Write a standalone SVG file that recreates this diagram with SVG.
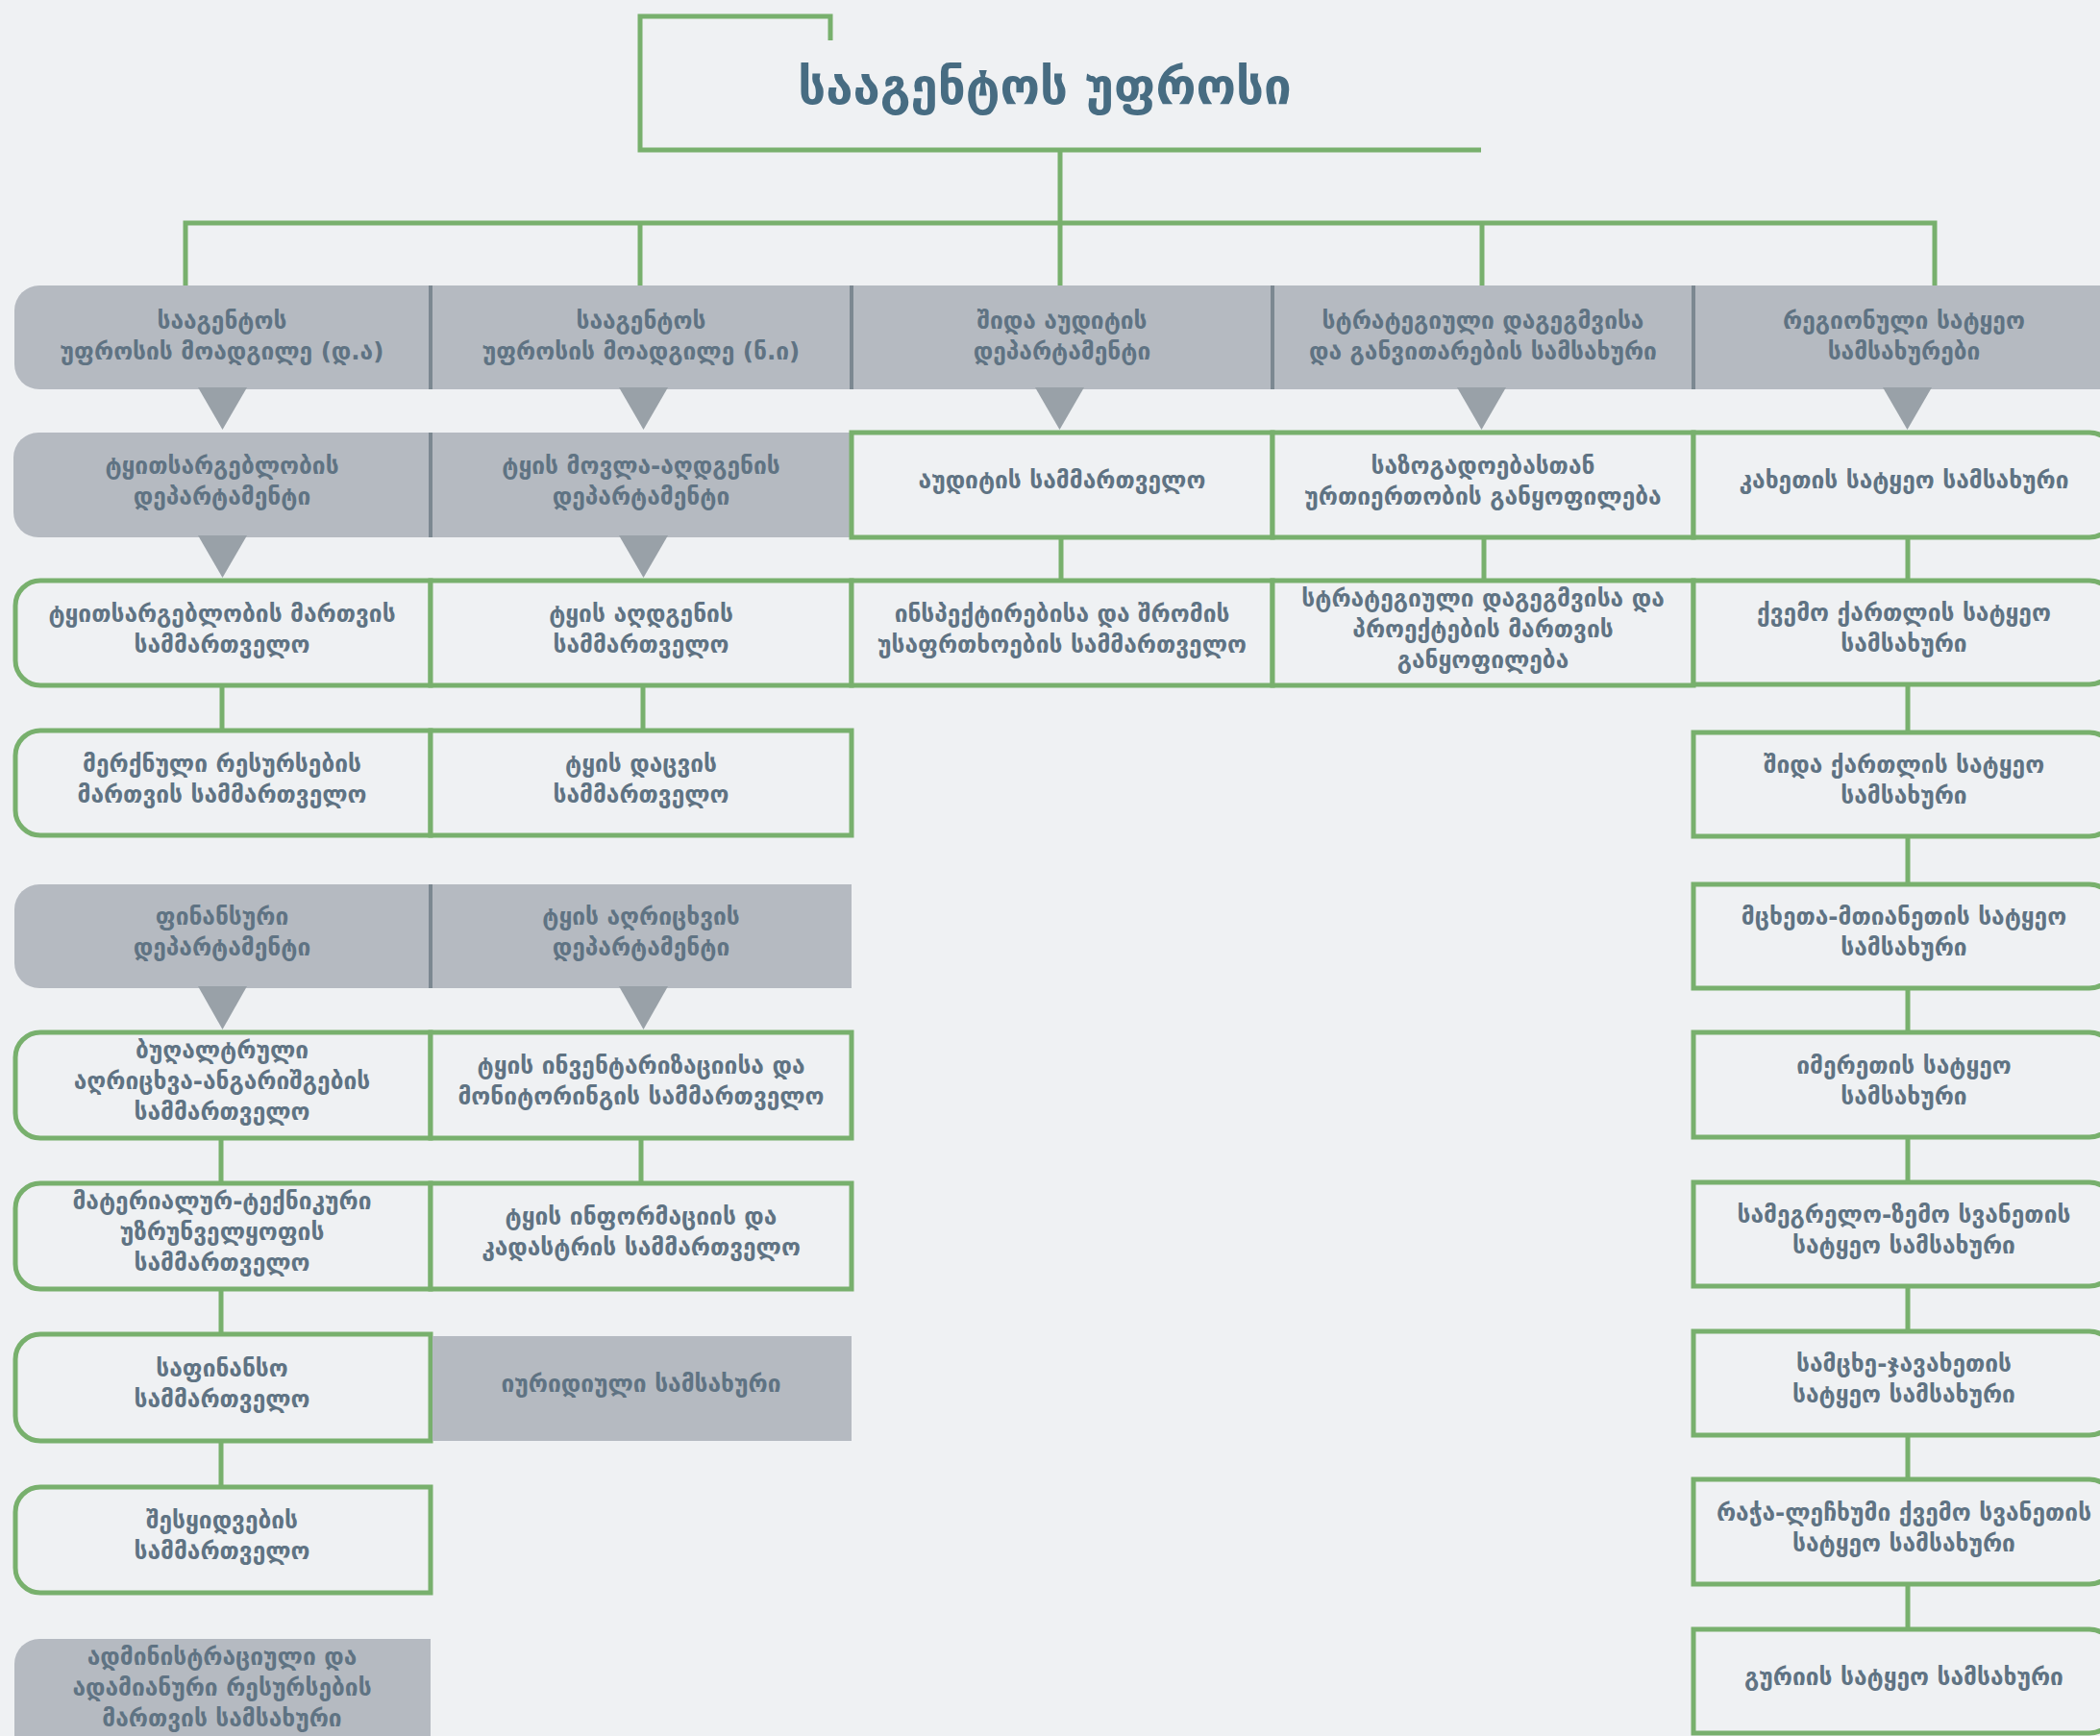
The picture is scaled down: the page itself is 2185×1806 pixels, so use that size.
<svg xmlns="http://www.w3.org/2000/svg" width="2185" height="1806" viewBox="0 0 2185 1806">
<style>
.bg{fill:#eff1f3}
.g{fill:#b5bac1}
.dv{fill:#7c8891}
.w{fill:#eff1f3;stroke:#78b06d;stroke-width:5}
.c{stroke:#78b06d;stroke-width:5;fill:none}
.a{fill:#99a1a8}
.t{font-family:"DejaVu Sans",sans-serif;font-size:24.5px;font-weight:bold;fill:#5f7383;text-anchor:middle}
.title{font-family:"DejaVu Sans",sans-serif;font-size:51px;font-weight:bold;fill:#476c82;text-anchor:middle}
</style>
<rect class="bg" x="0" y="0" width="2185" height="1806"/>

<g id="n-title">
<path class="c" d="M864,42 V17 H666 V156 H1541"/>
<text class="title" x="1087" y="108">სააგენტოს უფროსი</text>
</g>

<!-- Row 1 -->
<g id="n1-1"><path class="g" d="M41,297 H448 V405 H41 A26,26 0 0 1 15,379 V323 A26,26 0 0 1 41,297 Z"/>
<text class="t" x="231" y="342">სააგენტოს</text><text class="t" x="231" y="374">უფროსის მოადგილე (დ.ა)</text></g>
<g id="n1-2"><rect class="g" x="448" y="297" width="438" height="108"/><rect class="dv" x="446" y="297" width="4" height="108"/>
<text class="t" x="667" y="342">სააგენტოს</text><text class="t" x="667" y="374">უფროსის მოადგილე (ნ.ი)</text></g>
<g id="n1-3"><rect class="g" x="886" y="297" width="438" height="108"/><rect class="dv" x="884" y="297" width="4" height="108"/>
<text class="t" x="1105" y="342">შიდა აუდიტის</text><text class="t" x="1105" y="374">დეპარტამენტი</text></g>
<g id="n1-4"><rect class="g" x="1324" y="297" width="438" height="108"/><rect class="dv" x="1322" y="297" width="4" height="108"/>
<text class="t" x="1543" y="342">სტრატეგიული დაგეგმვისა</text><text class="t" x="1543" y="374">და განვითარების სამსახური</text></g>
<g id="n1-5"><rect class="g" x="1762" y="297" width="440" height="108"/><rect class="dv" x="1760" y="297" width="4" height="108"/>
<text class="t" x="1981" y="342">რეგიონული სატყეო</text><text class="t" x="1981" y="374">სამსახურები</text></g>

<!-- Row 2 -->
<g id="n2-1"><path class="g" d="M40,450 H448 V559 H40 A26,26 0 0 1 14,533 V476 A26,26 0 0 1 40,450 Z"/>
<text class="t" x="231" y="492.5">ტყითსარგებლობის</text><text class="t" x="231" y="524.5">დეპარტამენტი</text></g>
<g id="n2-2"><rect class="g" x="448" y="450" width="438" height="109"/><rect class="dv" x="446" y="450" width="4" height="109"/>
<text class="t" x="667" y="492.5">ტყის მოვლა-აღდგენის</text><text class="t" x="667" y="524.5">დეპარტამენტი</text></g>
<g id="n2-3"><rect class="w" x="886" y="450" width="438" height="109"/>
<text class="t" x="1105" y="507.5">აუდიტის სამმართველო</text></g>
<g id="n2-4"><rect class="w" x="1324" y="450" width="438" height="109"/>
<text class="t" x="1543" y="492.5">საზოგადოებასთან</text><text class="t" x="1543" y="524.5">ურთიერთობის განყოფილება</text></g>
<g id="n2-5"><path class="w" d="M1762,450 H2174 A26,26 0 0 1 2200,476 V533 A26,26 0 0 1 2174,559 H1762 Z"/>
<text class="t" x="1981" y="507.5">კახეთის სატყეო სამსახური</text></g>

<!-- Row 3 -->
<g id="n3-1"><path class="w" d="M42,604 H448 V713 H42 A26,26 0 0 1 16,687 V630 A26,26 0 0 1 42,604 Z"/>
<text class="t" x="231" y="646.5">ტყითსარგებლობის მართვის</text><text class="t" x="231" y="678.5">სამმართველო</text></g>
<g id="n3-2"><rect class="w" x="448" y="604" width="438" height="109"/>
<text class="t" x="667" y="646.5">ტყის აღდგენის</text><text class="t" x="667" y="678.5">სამმართველო</text></g>
<g id="n3-3"><rect class="w" x="886" y="604" width="438" height="109"/>
<text class="t" x="1105" y="646.5">ინსპექტირებისა და შრომის</text><text class="t" x="1105" y="678.5">უსაფრთხოების სამმართველო</text></g>
<g id="n3-4"><rect class="w" x="1324" y="604" width="438" height="109"/>
<text class="t" x="1543" y="630.5">სტრატეგიული დაგეგმვისა და</text><text class="t" x="1543" y="662.5">პროექტების მართვის</text><text class="t" x="1543" y="694.5">განყოფილება</text></g>
<g id="n3-5"><path class="w" d="M1762,604 H2174 A26,26 0 0 1 2200,630 V686 A26,26 0 0 1 2174,712 H1762 Z"/>
<text class="t" x="1981" y="646">ქვემო ქართლის სატყეო</text><text class="t" x="1981" y="678">სამსახური</text></g>

<!-- Row 4 -->
<g id="n4-1"><path class="w" d="M42,760 H448 V869 H42 A26,26 0 0 1 16,843 V786 A26,26 0 0 1 42,760 Z"/>
<text class="t" x="231" y="802.5">მერქნული რესურსების</text><text class="t" x="231" y="834.5">მართვის სამმართველო</text></g>
<g id="n4-2"><rect class="w" x="448" y="760" width="438" height="109"/>
<text class="t" x="667" y="802.5">ტყის დაცვის</text><text class="t" x="667" y="834.5">სამმართველო</text></g>
<g id="n4-5"><path class="w" d="M1762,762 H2174 A26,26 0 0 1 2200,788 V844 A26,26 0 0 1 2174,870 H1762 Z"/>
<text class="t" x="1981" y="804">შიდა ქართლის სატყეო</text><text class="t" x="1981" y="836">სამსახური</text></g>

<!-- Row 5 -->
<g id="n5-1"><path class="g" d="M41,920 H448 V1028 H41 A26,26 0 0 1 15,1002 V946 A26,26 0 0 1 41,920 Z"/>
<text class="t" x="231" y="962">ფინანსური</text><text class="t" x="231" y="994">დეპარტამენტი</text></g>
<g id="n5-2"><rect class="g" x="448" y="920" width="438" height="108"/><rect class="dv" x="446" y="920" width="4" height="108"/>
<text class="t" x="667" y="962">ტყის აღრიცხვის</text><text class="t" x="667" y="994">დეპარტამენტი</text></g>
<g id="n5-5"><path class="w" d="M1762,920 H2174 A26,26 0 0 1 2200,946 V1002 A26,26 0 0 1 2174,1028 H1762 Z"/>
<text class="t" x="1981" y="962">მცხეთა-მთიანეთის სატყეო</text><text class="t" x="1981" y="994">სამსახური</text></g>

<!-- Row 6 -->
<g id="n6-1"><path class="w" d="M42,1074 H448 V1184 H42 A26,26 0 0 1 16,1158 V1100 A26,26 0 0 1 42,1074 Z"/>
<text class="t" x="231" y="1101">ბუღალტრული</text><text class="t" x="231" y="1133">აღრიცხვა-ანგარიშგების</text><text class="t" x="231" y="1165">სამმართველო</text></g>
<g id="n6-2"><rect class="w" x="448" y="1074" width="438" height="110"/>
<text class="t" x="667" y="1117">ტყის ინვენტარიზაციისა და</text><text class="t" x="667" y="1149">მონიტორინგის სამმართველო</text></g>
<g id="n6-5"><path class="w" d="M1762,1074 H2174 A26,26 0 0 1 2200,1100 V1157 A26,26 0 0 1 2174,1183 H1762 Z"/>
<text class="t" x="1981" y="1116.5">იმერეთის სატყეო</text><text class="t" x="1981" y="1148.5">სამსახური</text></g>

<!-- Row 7 -->
<g id="n7-1"><path class="w" d="M42,1231 H448 V1341 H42 A26,26 0 0 1 16,1315 V1257 A26,26 0 0 1 42,1231 Z"/>
<text class="t" x="231" y="1258">მატერიალურ-ტექნიკური</text><text class="t" x="231" y="1290">უზრუნველყოფის</text><text class="t" x="231" y="1322">სამმართველო</text></g>
<g id="n7-2"><rect class="w" x="448" y="1231" width="438" height="110"/>
<text class="t" x="667" y="1274">ტყის ინფორმაციის და</text><text class="t" x="667" y="1306">კადასტრის სამმართველო</text></g>
<g id="n7-5"><path class="w" d="M1762,1230 H2174 A26,26 0 0 1 2200,1256 V1312 A26,26 0 0 1 2174,1338 H1762 Z"/>
<text class="t" x="1981" y="1272">სამეგრელო-ზემო სვანეთის</text><text class="t" x="1981" y="1304">სატყეო სამსახური</text></g>

<!-- Row 8 -->
<g id="n8-1"><path class="w" d="M42,1388 H448 V1499 H42 A26,26 0 0 1 16,1473 V1414 A26,26 0 0 1 42,1388 Z"/>
<text class="t" x="231" y="1431.5">საფინანსო</text><text class="t" x="231" y="1463.5">სამმართველო</text></g>
<g id="n8-2"><rect class="g" x="450" y="1390" width="436" height="109"/>
<text class="t" x="667" y="1447.5">იურიდიული სამსახური</text></g>
<g id="n8-5"><path class="w" d="M1762,1385 H2174 A26,26 0 0 1 2200,1411 V1467 A26,26 0 0 1 2174,1493 H1762 Z"/>
<text class="t" x="1981" y="1427">სამცხე-ჯავახეთის</text><text class="t" x="1981" y="1459">სატყეო სამსახური</text></g>

<!-- Row 9 -->
<g id="n9-1"><path class="w" d="M42,1547 H448 V1657 H42 A26,26 0 0 1 16,1631 V1573 A26,26 0 0 1 42,1547 Z"/>
<text class="t" x="231" y="1590">შესყიდვების</text><text class="t" x="231" y="1622">სამმართველო</text></g>
<g id="n9-5"><path class="w" d="M1762,1539 H2174 A26,26 0 0 1 2200,1565 V1622 A26,26 0 0 1 2174,1648 H1762 Z"/>
<text class="t" x="1981" y="1581.5">რაჭა-ლეჩხუმი ქვემო სვანეთის</text><text class="t" x="1981" y="1613.5">სატყეო სამსახური</text></g>

<!-- Row 10 -->
<g id="n10-1"><path class="g" d="M41,1705 H448 V1830 H15 V1731 A26,26 0 0 1 41,1705 Z"/>
<text class="t" x="231" y="1732">ადმინისტრაციული და</text><text class="t" x="231" y="1764">ადამიანური რესურსების</text><text class="t" x="231" y="1796">მართვის სამსახური</text></g>
<g id="n10-5"><path class="w" d="M1762,1695 H2174 A26,26 0 0 1 2200,1721 V1777 A26,26 0 0 1 2174,1803 H1762 Z"/>
<text class="t" x="1981" y="1753">გურიის სატყეო სამსახური</text></g>

<g id="connectors">
<path class="c" d="M1103,156 V297"/>
<path class="c" d="M193,297 V232 H2013 V297"/>
<path class="c" d="M666,232 V297"/>
<path class="c" d="M1542,232 V297"/>
<polygon class="a" points="206,403 257,403 231.5,447"/>
<polygon class="a" points="644,403 695,403 669.5,447"/>
<polygon class="a" points="1077,403 1128,403 1102.5,447"/>
<polygon class="a" points="1516,403 1567,403 1541.5,447"/>
<polygon class="a" points="1959,403 2010,403 1984.5,447"/>
<polygon class="a" points="206,557 257,557 231.5,601"/>
<polygon class="a" points="644,557 695,557 669.5,601"/>
<polygon class="a" points="206,1026 257,1026 231.5,1071"/>
<polygon class="a" points="644,1026 695,1026 669.5,1071"/>
<path class="c" d="M1104,559 V604 M1544,559 V604 M1985,559 V604"/>
<path class="c" d="M231,713 V760 M669,713 V760"/>
<path class="c" d="M230,1184 V1231 M667,1184 V1231"/>
<path class="c" d="M230,1341 V1388 M230,1499 V1547"/>
<path class="c" d="M1985,712 V762 M1985,870 V920 M1985,1028 V1074 M1985,1183 V1230 M1985,1338 V1385 M1985,1493 V1539 M1985,1648 V1695"/>
</g>
</svg>
